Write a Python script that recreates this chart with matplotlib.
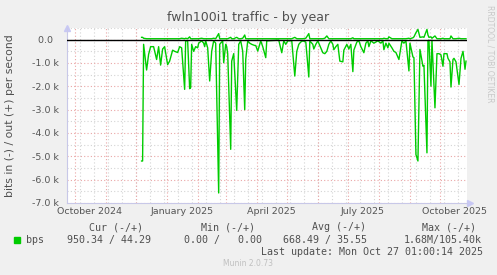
import matplotlib
matplotlib.use("Agg")
import matplotlib.pyplot as plt
import pandas as pd

# daily samples (bits per second)
dates = [
    "2024-12-07", "2024-12-08", "2024-12-09", "2024-12-12", "2024-12-14", "2024-12-16",
    "2024-12-19", "2024-12-22", "2024-12-24", "2024-12-26", "2024-12-28", "2024-12-30",
    "2025-01-02", "2025-01-04", "2025-01-07", "2025-01-09", "2025-01-12", "2025-01-14",
    "2025-01-16", "2025-01-19", "2025-01-20", "2025-01-22", "2025-01-24", "2025-01-25",
    "2025-01-26", "2025-01-28", "2025-01-30", "2025-02-01", "2025-02-02", "2025-02-05",
    "2025-02-07", "2025-02-08", "2025-02-09", "2025-02-11", "2025-02-13", "2025-02-15",
    "2025-02-17", "2025-02-19", "2025-02-22", "2025-02-23", "2025-02-26", "2025-02-27",
    "2025-03-01", "2025-03-02", "2025-03-03", "2025-03-06", "2025-03-07", "2025-03-09",
    "2025-03-12", "2025-03-14", "2025-03-16", "2025-03-18", "2025-03-20", "2025-03-21",
    "2025-03-23", "2025-03-25", "2025-03-27", "2025-03-30", "2025-03-31", "2025-04-02",
    "2025-04-05", "2025-04-07", "2025-04-10", "2025-04-11", "2025-04-23", "2025-04-26",
    "2025-04-28", "2025-04-30", "2025-05-02", "2025-05-06", "2025-05-09", "2025-05-11",
    "2025-05-13", "2025-05-15", "2025-05-17", "2025-05-20", "2025-05-23", "2025-05-24",
    "2025-05-27", "2025-05-28", "2025-05-30", "2025-06-01", "2025-06-06", "2025-06-08",
    "2025-06-10", "2025-06-12", "2025-06-14", "2025-06-16", "2025-06-17", "2025-06-19",
    "2025-06-21", "2025-06-23", "2025-06-26", "2025-06-27", "2025-06-30", "2025-07-02",
    "2025-07-04", "2025-07-06", "2025-07-07", "2025-07-10", "2025-07-12", "2025-07-14",
    "2025-07-17", "2025-07-19", "2025-07-21", "2025-07-22", "2025-07-24", "2025-07-27",
    "2025-07-31", "2025-08-03", "2025-08-05", "2025-08-06", "2025-08-08", "2025-08-10",
    "2025-08-11", "2025-08-14", "2025-08-16", "2025-08-18", "2025-08-21", "2025-08-24",
    "2025-08-26", "2025-08-28", "2025-08-31", "2025-09-01", "2025-09-04", "2025-09-05",
    "2025-09-07", "2025-09-09", "2025-09-11", "2025-09-14", "2025-09-15", "2025-09-18",
    "2025-09-19", "2025-09-20", "2025-09-22", "2025-09-23", "2025-09-26", "2025-09-28",
    "2025-09-30", "2025-10-02", "2025-10-04", "2025-10-05", "2025-10-08", "2025-10-09",
    "2025-10-11", "2025-10-12", "2025-10-14", "2025-10-15", "2025-10-17", "2025-10-20",
    "2025-10-22", "2025-10-24", "2025-10-25", "2025-10-26", "2025-10-27",
]
bps_in = [
    5200, 5200, 200, 1300, 630, 300, 300, 850, 300, 1090, 400, 300,
    1070, 920, 450, 500, 550, 300, 350, 2130, 50, 50, 2100, 2060,
    200, 500, 300, 350, 150, 50, 150, 300, 50, 350, 1770, 500,
    50, 150, 6570, 200, 50, 990, 200, 300, 600, 4700, 920, 600,
    3030, 200, 50, 500, 3000, 850, 50, 150, 200, 250, 250, 490,
    50, 300, 770, 50, 20, 560, 50, 200, 50, 50, 1560, 500,
    200, 100, 50, 100, 1600, 50, 200, 400, 200, 50, 560, 600,
    500, 200, 50, 200, 430, 300, 200, 920, 950, 450, 200, 400,
    200, 1370, 450, 100, 50, 300, 560, 150, 50, 300, 50, 150,
    50, 150, 50, 430, 150, 350, 150, 350, 500, 550, 850, 50,
    150, 50, 1340, 150, 740, 770, 4920, 5200, 420, 1140, 1100, 4850,
    50, 20, 1990, 20, 2920, 600, 600, 650, 1140, 600, 600, 800,
    950, 2030, 850, 800, 950, 1920, 800, 500, 850, 1270, 920,
]
bps_out = [
    100, 100, 60, 40, 40, 40, 40, 40, 40, 40, 40, 40,
    40, 40, 40, 40, 40, 40, 60, 40, 60, 40, 120, 40,
    40, 40, 40, 40, 40, 60, 40, 40, 40, 40, 40, 40,
    60, 40, 260, 40, 40, 40, 40, 40, 40, 100, 40, 40,
    100, 40, 40, 60, 200, 40, 40, 40, 40, 40, 40, 40,
    40, 40, 40, 40, 40, 40, 40, 40, 40, 40, 100, 40,
    40, 40, 40, 60, 260, 40, 40, 40, 40, 40, 40, 60,
    160, 40, 40, 40, 40, 40, 40, 40, 40, 40, 40, 40,
    40, 80, 40, 40, 40, 40, 40, 40, 40, 40, 40, 40,
    40, 40, 40, 60, 40, 40, 120, 40, 40, 40, 40, 40,
    40, 40, 60, 40, 80, 120, 300, 440, 100, 120, 100, 440,
    200, 100, 120, 60, 160, 40, 40, 40, 60, 40, 40, 40,
    40, 160, 40, 40, 40, 60, 40, 40, 40, 40, 40,
]
ytick_values = [0, -1000, -2000, -3000, -4000, -5000, -6000, -7000]
ytick_labels = ["0.0  ", "-1.0 k", "-2.0 k", "-3.0 k", "-4.0 k", "-5.0 k", "-6.0 k", "-7.0 k"]
xlabel_months = ["2024-10-16", "2025-01-16", "2025-04-16", "2025-07-16", "2025-10-16"]
xlabel_text = ["October 2024", "January 2025", "April 2025", "July 2025", "October 2025"]

W, H = 497, 275
fig = plt.figure(figsize=(W / 100, H / 100), dpi=100, facecolor="#f0f0f0")
ax = fig.add_axes([67 / W, 1 - 203 / H, 400 / W, 175 / H], facecolor="white")

x = pd.to_datetime(dates)
t0, t1 = pd.Timestamp("2024-09-23 12:00"), pd.Timestamp("2025-10-28 00:00")

# grid: gray every two weeks / half unit, red every month start / unit
dot = (0, (1, 2))
for m in pd.date_range("2024-09-22", "2025-10-28", freq="14D"):
    ax.axvline(m, color="#d4d4d4", lw=0.8, ls=dot, zorder=1)
for m in pd.date_range("2024-10-01", "2025-10-28", freq="MS"):
    ax.axvline(m, color="#eaa6a6", lw=0.8, ls=dot, zorder=1.5)
for v in range(-7000, 501, 500):
    major = v % 1000 == 0
    ax.axhline(v, color="#eaa6a6" if major else "#d4d4d4", lw=0.8, ls=dot, zorder=1)

ax.plot(x, [-v for v in bps_in], color="#00cc00", lw=1, zorder=3)
ax.plot(x, bps_out, color="#00cc00", lw=1, zorder=3)
ax.axhline(0, color="black", lw=1, zorder=4)

ax.set_xlim(t0, t1)
ax.set_ylim(-7000, 500)
ax.set_yticks(ytick_values)
ax.set_yticklabels(ytick_labels)
ax.set_xticks(pd.to_datetime(xlabel_months))
ax.set_xticklabels(xlabel_text)
ax.tick_params(axis="both", length=0, labelsize=6.8, labelcolor="#555555")
ax.tick_params(axis="y", pad=5.5)
ax.tick_params(axis="x", pad=3)

for s in ["top", "right"]:
    ax.spines[s].set_visible(False)
for s in ["left", "bottom"]:
    ax.spines[s].set_color("#c8c8e8")
    ax.spines[s].set_linewidth(0.8)

# axis arrows
ax.plot([0], [1.0], marker="^", ms=4, color="#c8c8f4", transform=ax.transAxes, clip_on=False)
ax.plot([1.008], [0], marker=">", ms=4, color="#c8c8f4", transform=ax.transAxes, clip_on=False)

fig.text(248 / W, 1 - 18 / H, "fwln100i1 traffic - by year", ha="center", va="center",
         fontsize=9, color="#505050")
fig.text(10 / W, 1 - 116 / H, "bits in (-) / out (+) per second", rotation=90,
         ha="center", va="center", fontsize=7.8, color="#505050")
fig.text(490 / W, 1 - 5 / H, "RRDTOOL / TOBI OETIKER", rotation=270, ha="center", va="top",
         fontsize=5.5, color="#c8c8c8")

mono = dict(family="DejaVu Sans Mono", fontsize=7.2, color="#505050", va="center")
for cx, lab in zip([116, 228, 339, 449], ["Cur (-/+)", "Min (-/+)", "Avg (-/+)", "Max (-/+)"]):
    fig.text(cx / W, 1 - 227 / H, lab, ha="center", **mono)
fig.patches.append(plt.Rectangle((14 / W, 1 - 243 / H), 6 / W, 6 / H, color="#00cc00",
                                 transform=fig.transFigure, figure=fig))
fig.text(26 / W, 1 - 240 / H, "bps", ha="left", **mono)
for cx, val in zip([109, 223, 325, 443],
                   ["950.34 / 44.29", "0.00 /   0.00", "668.49 / 35.55", "1.68M/105.40k"]):
    fig.text(cx / W, 1 - 240 / H, val, ha="center", **mono)
fig.text(483 / W, 1 - 252 / H, "Last update: Mon Oct 27 01:00:14 2025", ha="right", **mono)
fig.text(248 / W, 1 - 264 / H, "Munin 2.0.73", ha="center", va="center", fontsize=5.5,
         color="#c0c0c0")

fig.savefig("out.png", dpi=100, facecolor=fig.get_facecolor())
